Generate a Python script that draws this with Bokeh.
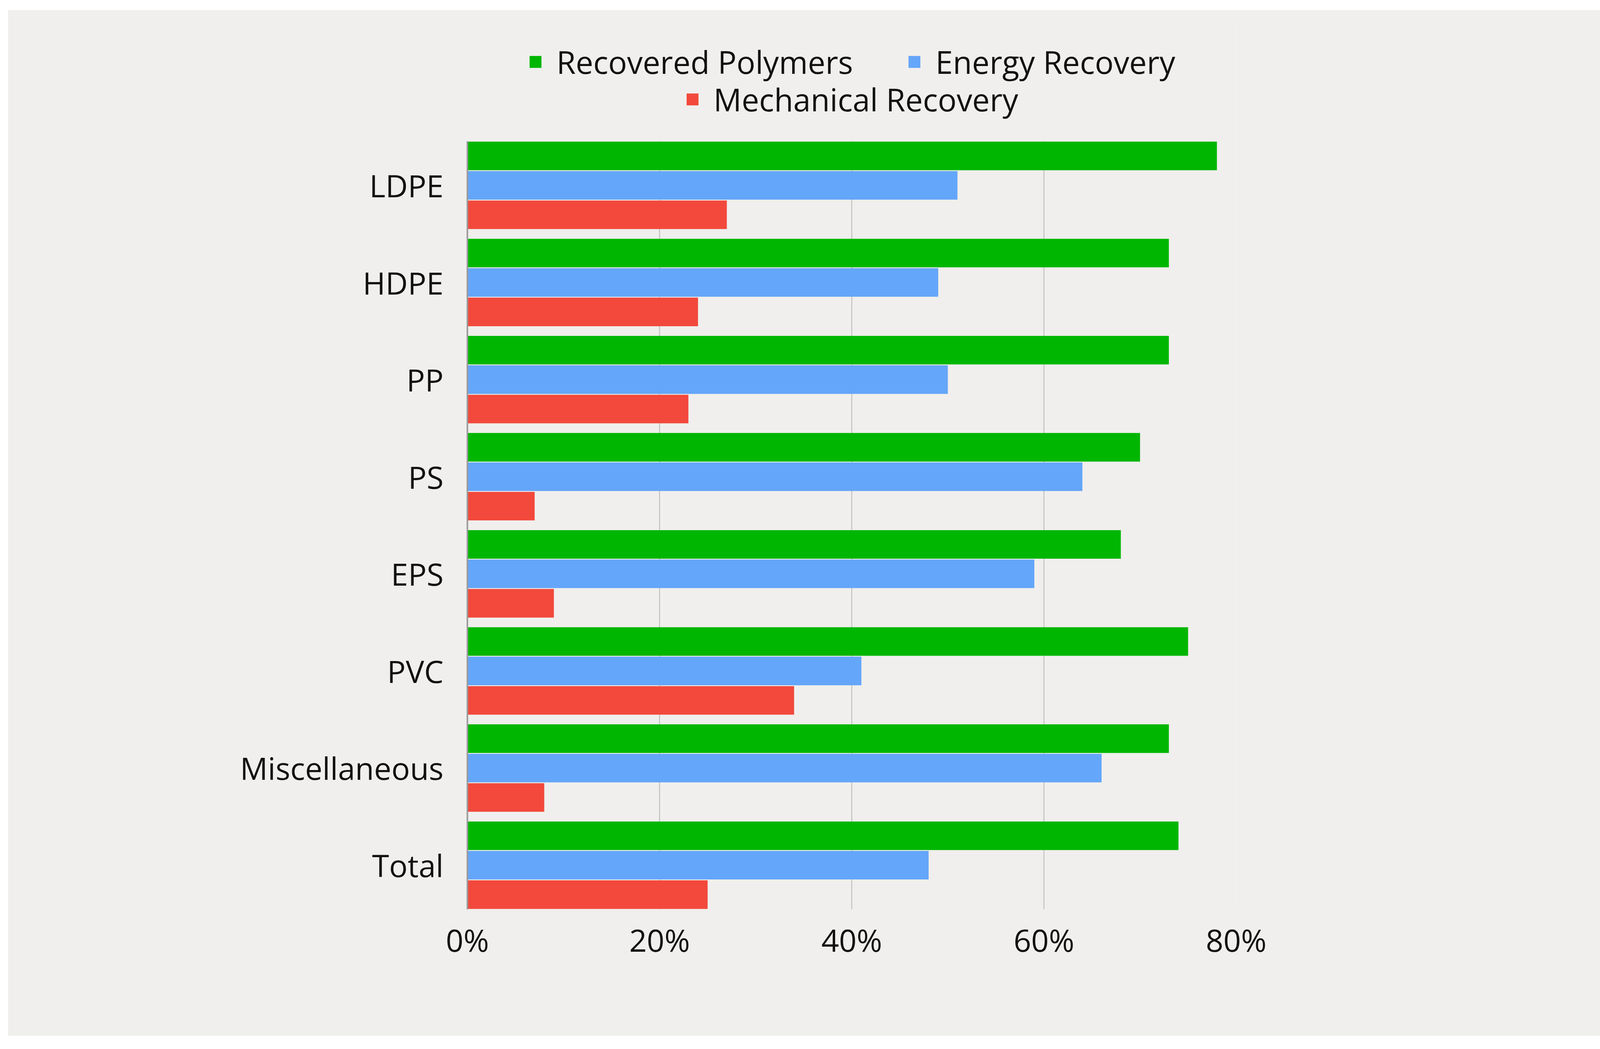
from bokeh.plotting import figure
from bokeh.models import Range1d, Legend, LegendItem, FixedTicker, PrintfTickFormatter, ColumnDataSource, BoxAnnotation
from bokeh.embed import file_html
from bokeh.resources import INLINE

categories = ["LDPE", "HDPE", "PP", "PS", "EPS", "PVC", "Miscellaneous", "Total"]
recovered_polymers = [78, 73, 73, 70, 68, 75, 73, 74]
energy_recovery = [51, 49, 50, 64, 59, 41, 66, 48]
mechanical_recovery = [27, 24, 23, 7, 9, 34, 8, 25]
x_ticks = [0, 20, 40, 60, 80]
series_names = ["Recovered Polymers", "Energy Recovery", "Mechanical Recovery"]
colors = ["#00b600", "#64a6f9", "#f2493c"]

BG = "#f0efed"
FONT = "Open Sans"

n = len(categories)
ypos = [n - 1 - k for k in range(n)]   # LDPE at top
bh = 0.294
off = 0.303
edge = 0.4545          # group half-extent in category units
px_per_unit = 248.6
top_px = 40            # frame top (figure coords)
legend_space = (336 - top_px) / px_per_unit

source = ColumnDataSource(dict(
    y_rp=[y + off for y in ypos], y_er=list(ypos), y_mr=[y - off for y in ypos],
    rp=recovered_polymers, er=energy_recovery, mr=mechanical_recovery))

p = figure(width=4322, height=2626,
           y_range=Range1d(-edge, (n - 1) + edge + legend_space),
           x_range=Range1d(0, 80),
           output_backend="svg", toolbar_location=None, margin=(25, 0, 0, 20),
           min_border_left=1176, min_border_right=1178,
           min_border_top=top_px, min_border_bottom=324)
p.background_fill_color = BG
p.border_fill_color = BG
p.outline_line_color = None

r1 = p.hbar(y="y_rp", right="rp", left=0, height=bh, source=source,
            fill_color=colors[0], line_color=None)
r2 = p.hbar(y="y_er", right="er", left=0, height=bh, source=source,
            fill_color=colors[1], line_color=None)
r3 = p.hbar(y="y_mr", right="mr", left=0, height=bh, source=source,
            fill_color=colors[2], line_color=None)

# axes
p.xaxis.ticker = FixedTicker(ticks=x_ticks)
p.xaxis.formatter = PrintfTickFormatter(format="%d%%")
p.xaxis.axis_line_color = None
p.xaxis.major_tick_line_color = None
p.xaxis.minor_tick_line_color = None
p.xaxis.major_label_text_font = FONT
p.xaxis.major_label_text_font_size = "79px"
p.xaxis.major_label_text_color = "#111111"
p.xaxis.major_label_standoff = 18

p.yaxis.ticker = FixedTicker(ticks=ypos)
p.yaxis.major_label_overrides = {y: c for y, c in zip(ypos, categories)}
p.yaxis.bounds = (-edge, (n - 1) + edge)
p.yaxis.axis_line_color = "#9a9a9a"
p.yaxis.axis_line_width = 4
p.yaxis.major_tick_line_color = None
p.yaxis.minor_tick_line_color = None
p.yaxis.major_label_text_font = FONT
p.yaxis.major_label_text_font_size = "79px"
p.yaxis.major_label_text_color = "#111111"
p.yaxis.major_label_standoff = 55

p.xgrid.grid_line_color = "#c8c8c8"
p.xgrid.grid_line_width = 3
p.ygrid.grid_line_color = None

# hide gridlines in the legend area above the bars
p.add_layout(BoxAnnotation(bottom=(n - 1) + edge, fill_color=BG, fill_alpha=1.0,
                           line_color=None))

def make_legend(items, m):
    return Legend(items=items, orientation="horizontal", location="top_center",
                  spacing=138, label_standoff=35, glyph_width=38, glyph_height=38,
                  label_height=99, padding=0, margin=m,
                  background_fill_alpha=0, border_line_alpha=0,
                  label_text_font=FONT, label_text_font_size="80px",
                  label_text_color="#111111")

leg1 = make_legend([LegendItem(label=series_names[0], renderers=[r1]),
                    LegendItem(label=series_names[1], renderers=[r2])], 38)
leg2 = make_legend([LegendItem(label=series_names[2], renderers=[r3])], 134)
p.add_layout(leg1)
p.add_layout(leg2)

open("out.html", "w").write(file_html(p, INLINE))
